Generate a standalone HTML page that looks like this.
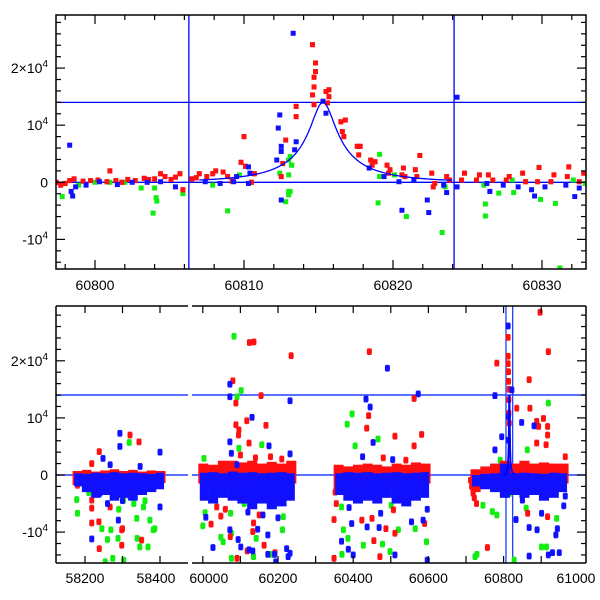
<!DOCTYPE html>
<html><head><meta charset="utf-8"><style>
html,body{margin:0;padding:0;background:#fff;}
svg{display:block;font-family:"Liberation Sans",sans-serif;}
</style></head><body>
<svg id="chart" width="600" height="600" viewBox="0 0 600 600" xmlns="http://www.w3.org/2000/svg">
<defs>
<clipPath id="clipTop"><rect x="56" y="15" width="530" height="254"/></clipPath>
<clipPath id="clipBL"><rect x="56" y="306" width="132" height="257"/></clipPath>
<clipPath id="clipBR"><rect x="192" y="306" width="394" height="257"/></clipPath>
</defs>
<g id="top"></g>
<g id="bot"></g>
</svg>
<script>
// ---------- data ----------
const topRed=[[60797.4,0],[60797.7,-500],[60798.0,-200],[60798.3,300],[60798.6,600],[60799.2,200],[60799.7,300],[60800.2,400],[60800.8,100],[60801.0,2000],[60801.4,300],[60801.8,0],[60802.2,500],[60802.7,300],[60803.3,700],[60803.6,500],[60804.0,600],[60804.4,1500],[60804.7,1000],[60805.1,500],[60805.4,900],[60805.7,1500],[60805.9,-1300],[60806.5,600],[60806.8,800],[60807.0,1500],[60807.5,1000],[60807.9,1500],[60808.1,2000],[60808.6,1800],[60808.9,1000],[60809.2,200],[60809.8,3500],[60810.0,8000],[60810.1,2800],[60810.5,0],[60810.7,1500],[60812.6,3300],[60812.5,1000],[60812.8,7400],[60813.5,13300],[60813.5,11500],[60814.6,24100],[60814.8,20900],[60814.8,19400],[60814.7,18400],[60814.7,16700],[60814.6,15300],[60814.7,13600],[60815.5,15900],[60815.7,16200],[60815.7,15000],[60815.6,13900],[60816.5,10600],[60816.8,10900],[60816.6,8900],[60816.7,8000],[60817.6,6300],[60817.8,6300],[60817.7,4800],[60818.5,3900],[60818.8,3600],[60818.6,3000],[60819.6,3000],[60819.8,2200],[60819.7,1600],[60820.7,2500],[60820.6,1300],[60820.8,1000],[60821.5,2200],[60821.8,4700],[60821.6,1000],[60822.6,1600],[60822.8,-200],[60822.7,-800],[60823.6,1000],[60823.8,400],[60824.6,400],[60824.8,1600],[60825.6,400],[60825.8,1300],[60826.4,1300],[60826.7,400],[60827.6,400],[60827.8,1000],[60828.7,1600],[60828.9,100],[60829.8,2600],[60829.7,100],[60830.8,1300],[60830.6,100],[60831.8,2700],[60831.7,1000],[60832.5,100],[60832.8,1600]];
const topGreen=[[60797.8,-2500],[60798.9,-500],[60800,0],[60801,0],[60802,0],[60803.1,-1000],[60804,-1000],[60804.1,-2700],[60804.15,-3300],[60803.9,-5400],[60805.9,-2000],[60807.9,-500],[60808.9,-5000],[60809.7,1300],[60812.4,1600],[60812.8,-3400],[60813.0,-1600],[60813.0,3900],[60813.2,3000],[60813.1,4500],[60813.2,3000],[60813.0,1300],[60813.0,-2200],[60813.1,-1600],[60819.1,4900],[60819.1,1000],[60819.0,-3600],[60820.1,1300],[60820.9,-6000],[60823.3,-8800],[60823.5,-800],[60826.1,-500],[60826.2,-3800],[60826.2,-5900],[60827.1,-1900],[60828.0,400],[60828.1,-1800],[60829.9,-3000],[60830.9,-3700],[60831.2,-15000],[60832.1,400],[60832.9,-200]];
const topBlue=[[60798.3,6500],[60798.4,-1600],[60798.5,-2400],[60798.7,-800],[60799.4,-500],[60800.3,100],[60801.5,-400],[60802.5,0],[60803.5,0],[60804.4,100],[60805.4,-800],[60807.4,100],[60808.4,-200],[60809.3,100],[60809.5,1000],[60810.3,2700],[60810.4,1600],[60810.3,-200],[60812.2,3900],[60812.3,9500],[60812.4,11800],[60812.5,5400],[60812.5,-3100],[60813.3,26100],[60812.5,6300],[60813.4,5700],[60813.5,7100],[60815.3,14200],[60815.5,12100],[60818.4,2500],[60819.4,1000],[60820.4,100],[60820.6,-4900],[60821.4,400],[60822.3,-3100],[60822.4,-5300],[60823.4,-500],[60823.6,-1800],[60824.3,-800],[60824.3,14900],[60826.3,-200],[60826.5,-1600],[60827.4,-500],[60828.4,-800],[60829.3,-1300],[60829.5,-2400],[60830.2,-800],[60831.6,-500],[60832.2,-2500],[60832.5,-1000]];

const botRed=[[58218,2000],[58238,4100],[58320,7000],[58344,5800],[58218,-4400],[58218,-5800],[58218,-8400],[58238,-12900],[58237,-8200],[58298,-9600],[58300,-9400],[58351,-11400],[58298,-12300],[58320,-3800],[58267,-5600],[58180,-1800],[58250,-2500],[58310,-3000],
[60080,16500],[60124,23200],[60136,23300],[60235,20900],[60117,9500],[60088,8800],[60096,7900],[60095,7000],[60123,5600],[60168,8700],[60155,13900],[60088,12600],[60022,-8600],[60048,-7200],[60118,-13300],[60091,-14600],[60135,-8400],[60163,-12300],[60192,-13600],[60133,-9900],[60037,-5600],[60073,-10800],[60100,3500],[60140,3000],[60180,3200],[60210,2800],[60060,-6000],[60150,-7000],
[60443,21600],[60441,10400],[60436,8200],[60511,6800],[60562,13400],[60562,5100],[60582,7100],[60349,-7800],[60349,-14600],[60423,-7900],[60450,-7600],[60471,-14300],[60487,-9400],[60511,-10200],[60507,-6100],[60515,-4400],[60455,-11500],[60590,-8500],[60352,-3000],[60355,-5000],[60480,3000],[60540,2600],
[60782,19600],[60812,24100],[60812,20800],[60812,19500],[60813,18100],[60813,16400],[60815,15000],[60814,13200],[60814,10800],[60815,9100],[60897,28500],[60919,21600],[60868,16700],[60835,11700],[60870,11700],[60906,9900],[60888,9400],[60893,8500],[60917,8500],[60917,7000],[60913,5300],[60888,5600],[60964,3200],[60712,-900],[60719,-3200],[60728,-5000],[60757,-12700],[60850,-4400],[60893,-2000],[60917,-7300],[60864,-6700],[60715,-2000],[60722,-4000]];
const botGreen=[[58178,-4300],[58180,-6700],[58245,-9400],[58269,-9600],[58260,-11300],[58254,-15200],[58288,-11100],[58274,-14600],[58303,-14900],[58318,5700],[58339,-11100],[58346,-12600],[58368,-12600],[58382,-9600],[58386,-9400],[58373,-7900],[58338,-7600],[58303,-4400],[58356,-5600],[58210,-3100],[58330,-5000],[58360,-4500],[58290,-6000],
[60083,24300],[60102,14800],[60091,13700],[60003,2900],[60000,-8900],[60006,-6600],[60054,-11700],[60048,-10900],[60076,-10200],[60076,-14600],[60096,4700],[60157,5300],[60212,-9600],[60135,-14300],[60183,-13900],[60074,-6700],[60214,-7300],[60142,-11100],[60110,-5000],
[60397,10700],[60384,8900],[60405,5100],[60466,6300],[60374,-9600],[60386,-11100],[60370,-13900],[60427,-12300],[60478,-12100],[60498,-13400],[60520,-9600],[60595,-11700],[60565,-9400],[60369,-5600],[60501,-5300],
[60919,12600],[60724,-14300],[60729,-13900],[60745,-5300],[60770,-6400],[60782,-7000],[60817,-3200],[60828,-14900],[60901,-12600],[60914,-12600],[60941,-7600],[60863,4400],[60791,2600],[60860,-5800]];
const botBlue=[[58218,-11200],[58248,2900],[58293,5000],[58293,7300],[58289,-7900],[58400,4000],[58400,-5600],[58240,-3200],[58347,1500],[58267,1800],[58300,-4500],[58260,-5000],
[60072,15900],[60072,13700],[60131,10100],[60176,5100],[60232,13000],[60232,3700],[60072,5800],[60076,3800],[60091,1800],[60008,-7400],[60027,-12700],[60072,-9600],[60094,-11300],[60101,-12600],[60123,-13100],[60133,-13300],[60146,-9500],[60173,-10500],[60173,-13900],[60191,-13900],[60223,-12900],[60227,-14300],[60232,-13700],[60194,-15200],[60160,-7000],[60200,-7500],[60120,-6500],
[60434,13300],[60445,11900],[60491,18700],[60573,14200],[60453,5700],[60505,2700],[60425,3200],[60369,-11600],[60387,-13000],[60400,-14000],[60396,-8500],[60437,-9100],[60469,-9200],[60473,-6700],[60511,-14000],[60555,-8200],[60586,-7900],[60597,-6000],[60597,-14900],[60371,-2900],[60389,-5700],
[60812,26100],[60822,14900],[60777,13900],[60795,6700],[60777,4400],[60848,9200],[60881,8600],[60813,10200],[60813,6100],[60833,-7800],[60868,-9200],[60889,-9600],[60868,-14200],[60901,-6700],[60919,-14000],[60930,-13600],[60948,-13600],[60939,-10500],[60943,-9400],[60964,-3700],[60960,-5400],[60850,-4400]];

// dense season envelopes (10 bins per season)
const seasonStart=[58167,59988,60348,60712];
const seasonEnd=[58414,60248,60605,60972];
const redBandHi=[[700,900,600,800,1000,700,900,600,800,700],[2000,1800,2500,2500,2200,2500,2000,2300,2000,2500],[1800,1500,1800,2000,1800,1500,2000,1800,2200,2000],[1000,1500,2000,2500,2000,2500,2000,2200,2000,2000]];
const redBandLo=[[-1800,-1600,-2000,-1800,-1700,-2000,-1800,-1600,-1500,-1400],[-1500,-1500,-1800,-1500,-1600,-1500,-1500,-1800,-1500,-1500],[-3000,-1500,-1500,-1600,-1500,-1500,-1500,-1800,-1500,-1500],[-3000,-1500,-1500,-1500,-1500,-1500,-1500,-1500,-1500,-1500]];
const blueBandHi=[[300,200,400,300,500,300,400,300,200,400],[400,500,300,600,400,500,300,400,500,300],[300,500,400,500,300,400,500,300,400,500],[0,200,300,2000,300,400,300,200,400,300]];
const blueBandLo=[[-2000,-3000,-4000,-3500,-4500,-4000,-4500,-3500,-3000,-2500],[-4500,-5000,-4000,-4500,-5000,-6000,-5000,-6000,-5500,-4500],[-3500,-4500,-5000,-4500,-5000,-4000,-5000,-5500,-4500,-4000],[-2000,-2500,-3000,-4000,-3500,-4000,-3500,-4500,-4000,-3000]];

const yTicks=[-10000,0,10000,20000];
const topXTicks=[60800,60810,60820,60830];
const botXTicks=[58200,58400,60000,60200,60400,60600,60800,61000];
const refLevels=[0,14000];
const refDates=[60806.3,60824.1];

// ---------- scales ----------
const xT=d=>95+(d-60800)*14.9;
const yT=v=>182.3-v*0.00571;
const xB=d=>d<59000?85+(d-58200)*0.375:202.8+(d-60000)*0.376;
const yB=v=>475-v*0.00571;
const NS="http://www.w3.org/2000/svg";
function mk(tag,attrs,parent){const e=document.createElementNS(NS,tag);for(const k in attrs)e.setAttribute(k,attrs[k]);parent.appendChild(e);return e;}
function model(t){const u0=0.15,tE=6,t0=60815.3;const dt=(t-t0)/tE;const u=Math.sqrt(u0*u0+dt*dt);const A=(u*u+2)/(u*Math.sqrt(u*u+4));const Ap=(u0*u0+2)/(u0*Math.sqrt(u0*u0+4));return 14000*(A-1)/(Ap-1);}
const colors={red:"#ff1010",green:"#10ee10",blue:"#1010ff"};

function drawPoints(parent,arr,col,xs,ys,nm,errDef){
  for(const p of arr){
    const cx=xs(p[0]),cy=ys(p[1]);const er=(p[2]||errDef)*0.00571;
    const g=mk('g',{},parent);
    
    
    mk('line',{x1:cx,x2:cx,y1:cy-er,y2:cy+er,stroke:col,'stroke-width':1.2},g);
    mk('line',{x1:cx-2,x2:cx+2,y1:cy-er,y2:cy-er,stroke:col,'stroke-width':1},g);
    mk('line',{x1:cx-2,x2:cx+2,y1:cy+er,y2:cy+er,stroke:col,'stroke-width':1},g);
    mk('rect',{x:cx-2.5,y:cy-2.5,width:5,height:5,fill:col},g);
  }
}
function drawBand(parent,i,hi,lo,col,nm,inset){
  const n=hi[i].length,w=(seasonEnd[i]-seasonStart[i])/n;
  for(let k=0;k<n;k++){
    const x0=xB(seasonStart[i]+k*w)+(k===0?inset:0),x1=xB(seasonStart[i]+(k+1)*w)-(k===n-1?inset:0);
    const r=mk('rect',{x:x0,y:yB(hi[i][k]),width:x1-x0+0.3,height:yB(lo[i][k])-yB(hi[i][k]),fill:col},parent);
    
    
  }
}
function yTickLabels(parent,ys){
  yTicks.forEach(v=>{
    const t=mk('text',{x:48,y:ys(v)+5,'text-anchor':'end','font-size':14,fill:'#000'},parent);
    
    
    if(v===0)t.textContent='0';
    else{const m=Math.abs(v)/10000;let s=(v<0?'-':'')+(m===1?'':m+'\u00d7')+'10';t.textContent=s;const sp=mk('tspan',{dy:-6,'font-size':10},t);sp.textContent='4';}
  });
}
function yTickMarks(parent,ys,top,bot){
  for(let v=-16000;v<=30000;v+=2000){const y=ys(v);if(y<top||y>bot)continue;const L=v%10000===0?9:5;
    mk('line',{x1:56,x2:56+L,y1:y,y2:y,stroke:'#000','stroke-width':1.2},parent);
    mk('line',{x1:586,x2:586-L,y1:y,y2:y,stroke:'#000','stroke-width':1.2},parent);}
}

// ---------- top panel ----------
const T=document.getElementById('top');
const tc=mk('g',{'clip-path':'url(#clipTop)'},T);
refLevels.forEach(v=>{const l=mk('line',{x1:56,x2:586,y1:yT(v),y2:yT(v),stroke:'#0000ff','stroke-width':1.3},tc);});
refDates.forEach(d=>{const l=mk('line',{x1:xT(d),x2:xT(d),y1:15,y2:269,stroke:'#0000ff','stroke-width':1.3},tc);});
drawPoints(tc,topGreen,colors.green,xT,yT,'green-point',300);
drawPoints(tc,topRed,colors.red,xT,yT,'red-point',350);
drawPoints(tc,topBlue,colors.blue,xT,yT,'blue-point',300);
let pd='';for(let d=60807;d<=60824;d+=0.05){pd+=(pd?'L':'M')+xT(d).toFixed(1)+','+yT(model(d)).toFixed(1);}
const mc=mk('path',{d:pd,fill:'none',stroke:'#0000ff','stroke-width':1.3},tc);

const tf=mk('rect',{x:56,y:15,width:530,height:254,fill:'none',stroke:'#000','stroke-width':1.5},T);

yTickMarks(T,yT,15,269);
for(let d=60798;d<=60833;d+=2){const x=xT(d);if(x<56||x>586)continue;const L=d%10===0?9:5;
  mk('line',{x1:x,x2:x,y1:15,y2:15+L,stroke:'#000','stroke-width':1.2},T);
  mk('line',{x1:x,x2:x,y1:269,y2:269-L,stroke:'#000','stroke-width':1.2},T);}
yTickLabels(T,yT);
topXTicks.forEach(d=>{const t=mk('text',{x:xT(d),y:290,'text-anchor':'middle','font-size':14},T);t.textContent=d;
  });

// ---------- bottom panel ----------
const B=document.getElementById('bot');
['url(#clipBL)','url(#clipBR)'].forEach((cp,si)=>{
  const g=mk('g',{'clip-path':cp},B);
  refLevels.forEach(v=>{const l=mk('line',{x1:56,x2:586,y1:yB(v),y2:yB(v),stroke:'#2040ff','stroke-width':1.5},g);});
  if(si===1)refDates.forEach(d=>{const l=mk('line',{x1:xB(d),x2:xB(d),y1:306,y2:563,stroke:'#2040ff','stroke-width':1.3},g);});
  drawPoints(g,botGreen,colors.green,xB,yB,'green-point',500);
  for(let i=0;i<seasonStart.length;i++)drawBand(g,i,redBandHi,redBandLo,colors.red,'red-dense-band',0);
  drawPoints(g,botRed,colors.red,xB,yB,'red-point',500);
  for(let i=0;i<seasonStart.length;i++)drawBand(g,i,blueBandHi,blueBandLo,colors.blue,'blue-dense-band',1.5);
  drawPoints(g,botBlue,colors.blue,xB,yB,'blue-point',500);
  if(si===1){let p='';for(let d=60800;d<=60830;d+=0.1){p+=(p?'L':'M')+xB(d).toFixed(2)+','+yB(model(d)).toFixed(1);}
    const m=mk('path',{d:p,fill:'none',stroke:'#0000ff','stroke-width':2},g);}
});
const fr=[[56,306,188,306],[192,306,586,306],[56,563,188,563],[192,563,586,563],[56,306,56,563],[586,306,586,563]];
fr.forEach(s=>{const l=mk('line',{x1:s[0],y1:s[1],x2:s[2],y2:s[3],stroke:'#000','stroke-width':1.5},B);});
yTickMarks(B,yB,306,563);
const bx=[58200,58300,58400,60000,60100,60200,60300,60400,60500,60600,60700,60800,60900];
bx.forEach(d=>{const x=xB(d);mk('line',{x1:x,x2:x,y1:306,y2:313,stroke:'#000','stroke-width':1.2},B);mk('line',{x1:x,x2:x,y1:563,y2:556,stroke:'#000','stroke-width':1.2},B);});
yTickLabels(B,yB);
botXTicks.forEach(d=>{let x=xB(d);if(d===58400)x-=4;if(d===60000)x+=6;if(d===61000)x=Math.min(x,576);
  const t=mk('text',{x:x,y:583,'text-anchor':'middle','font-size':14},B);t.textContent=d;
  });
</script>
</body></html>
